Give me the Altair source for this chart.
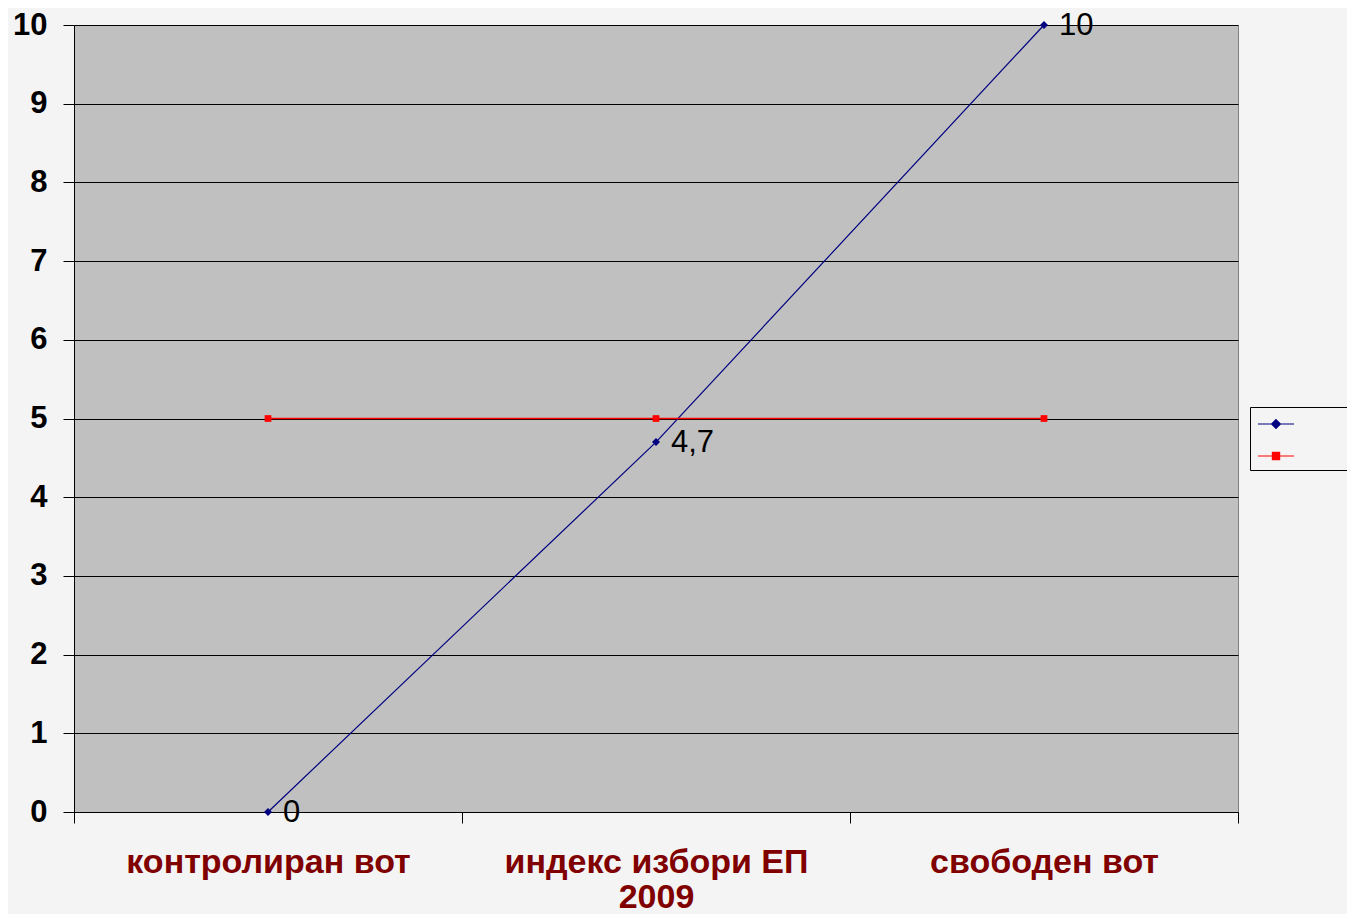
import altair as alt
import pandas as pd

categories = ["контролиран вот", "индекс избори ЕП 2009", "свободен вот"]
series_names = ["Серия1", "Серия2"]
index_values = [0, 4.7, 10]
middle_values = [5, 5, 5]
point_labels = ["0", "4,7", "10"]
y_ticks = [0, 1, 2, 3, 4, 5, 6, 7, 8, 9, 10]
series_colors = ["#000080", "#FF0000"]

rows = []
for c, v, l in zip(categories, index_values, point_labels):
    rows.append({"cat": c, "series": series_names[0], "value": v, "label": l})
for c, v in zip(categories, middle_values):
    rows.append({"cat": c, "series": series_names[1], "value": v, "label": ""})
df = pd.DataFrame(rows)

FONT = "Liberation Sans"

wrap_first, wrap_second = categories[1].rsplit(" ", 1)
label_expr = (
    f"datum.label == '{categories[1]}' ? ['{wrap_first}', '{wrap_second}'] : datum.label"
)

# legend symbols: short line with a marker in the middle
diamond_path = "M-2.25,0H2.25M0,-0.55L0.55,0L0,0.55L-0.55,0Z"
square_path = "M-2.25,0H2.25M-0.45,-0.45H0.45V0.45H-0.45Z"

legend = alt.Legend(
    title=None,
    orient="none",
    legendX=1176,
    legendY=382,
    padding=8,
    symbolOffset=9,
    symbolSize=256,
    symbolStrokeWidth=1.2,
    symbolOpacity=1,
    rowPadding=16,
    labelOffset=12,
    labelFontSize=12,
    labelOpacity=0,
    strokeColor="#000000",
)

x_enc = alt.X(
    "cat:N",
    sort=categories,
    scale=alt.Scale(type="band", paddingInner=0, paddingOuter=0),
    axis=alt.Axis(
        title=None,
        grid=False,
        tickBand="extent",
        labelAngle=0,
        labelFont=FONT,
        labelFontSize=34,
        labelFontWeight="bold",
        labelColor="#800000",
        labelPadding=22,
        labelBaseline="top",
        labelLineHeight=35,
        labelLimit=0,
        labelExpr=label_expr,
        tickSize=11,
        tickColor="#000000",
        domainColor="#000000",
    ),
)

y_enc = alt.Y(
    "value:Q",
    scale=alt.Scale(domain=[0, 10], nice=False),
    axis=alt.Axis(
        title=None,
        values=y_ticks,
        grid=True,
        gridColor="#000000",
        gridWidth=1,
        labelFont=FONT,
        labelFontSize=31,
        labelFontWeight="bold",
        labelColor="#000000",
        labelPadding=16,
        tickSize=11,
        tickColor="#000000",
        domainColor="#000000",
    ),
)

base = alt.Chart(df)
blue = base.transform_filter(alt.datum.series == series_names[0])
red = base.transform_filter(alt.datum.series == series_names[1])

blue_line = blue.mark_line(color=series_colors[0], strokeWidth=1.2).encode(x=x_enc, y=y_enc)
red_line = red.mark_line(color=series_colors[1], strokeWidth=1.5).encode(x=x_enc, y=y_enc)
blue_pts = blue.mark_point(filled=True, opacity=1, shape="diamond", size=64, color=series_colors[0]).encode(x=x_enc, y=y_enc)
red_pts = red.mark_point(filled=True, opacity=1, shape="square", size=45, color=series_colors[1]).encode(x=x_enc, y=y_enc)

texts = blue.mark_text(
    align="left", baseline="middle", dx=15, dy=1, fontSize=31, font=FONT, color="#000000"
).encode(x=x_enc, y=y_enc, text="label:N")

legend_layer = base.transform_filter("false").mark_point(filled=True, opacity=1, strokeWidth=1.2).encode(
    x=x_enc,
    y=y_enc,
    color=alt.Color("series:N", scale=alt.Scale(domain=series_names, range=series_colors), legend=legend),
    stroke=alt.Stroke("series:N", scale=alt.Scale(domain=series_names, range=series_colors), legend=legend),
    shape=alt.Shape("series:N", scale=alt.Scale(domain=series_names, range=[diamond_path, square_path]), legend=legend),
)

chart = (
    alt.layer(blue_line, red_line, blue_pts, red_pts, texts, legend_layer)
    .properties(
        width=1164,
        height=787,
        padding={"left": 66, "top": 17, "right": 109, "bottom": 102},
        autosize=alt.AutoSizeParams(type="none"),
        background="#f4f4f4",
    )
    .configure_view(fill="#C0C0C0", stroke="#808080", strokeWidth=1)
)

chart.save("out.html", embed_options={"renderer": "svg", "actions": False})
